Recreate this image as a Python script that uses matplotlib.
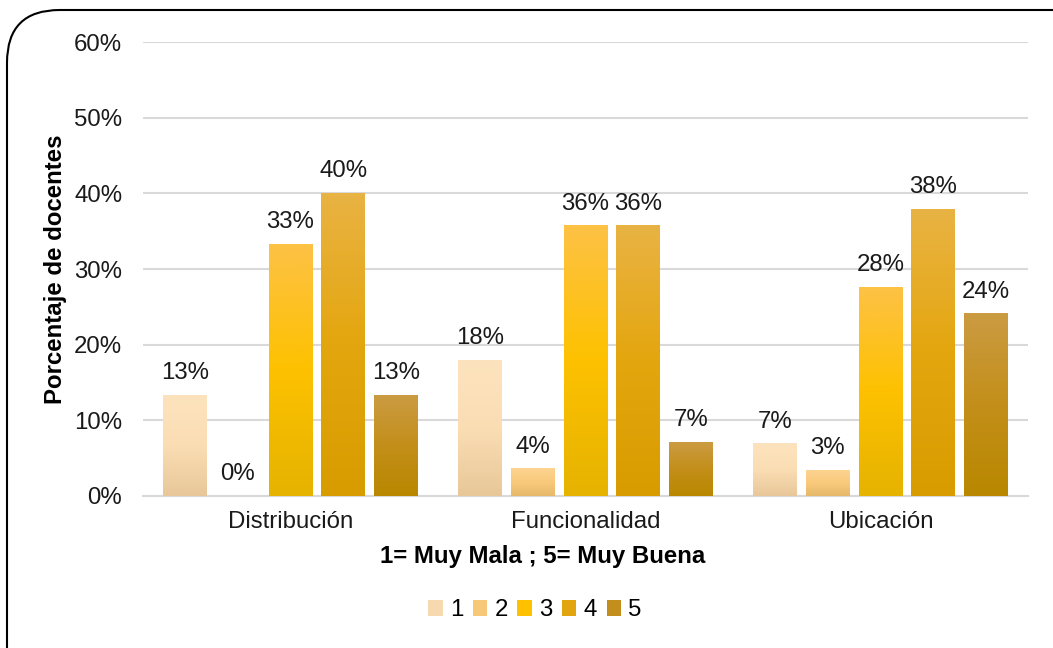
import numpy as np
import matplotlib.pyplot as plt
from matplotlib.patches import FancyBboxPatch, Patch
from matplotlib.colors import LinearSegmentedColormap

plt.rcParams['font.family'] = ['Liberation Sans', 'DejaVu Sans']

# datos
categorias = ['Distribución', 'Funcionalidad', 'Ubicación']
niveles = ['1', '2', '3', '4', '5']
valores = {
    '1': [13.3, 17.9, 6.9],
    '2': [0.0, 3.6, 3.4],
    '3': [33.3, 35.7, 27.6],
    '4': [40.0, 35.7, 37.9],
    '5': [13.3, 7.1, 24.1],
}

# colores degradados (arriba, medio, abajo)
degradados = {
    '1': ['#FDE3BD', '#FBDDB4', '#E8C899'],
    '2': ['#FDD390', '#F9CA7C', '#E6B86A'],
    '3': ['#FEC145', '#FDC100', '#E6B300'],
    '4': ['#E9B343', '#E4A60E', '#D89C00'],
    '5': ['#CB9B42', '#C38F1A', '#B98800'],
}
leyenda_col = {'1': '#F6D9AF', '2': '#F6C878', '3': '#FDC100', '4': '#E2A50F', '5': '#C28E1C'}

fs = 17.3

fig = plt.figure(figsize=(10.53, 6.48), dpi=100)
ax = fig.add_axes([0.1358, 0.2346, 0.8405, 0.7004])

x = np.arange(len(categorias))
paso = 0.179
ancho = 0.149

for i, n in enumerate(niveles):
    pos = x + (i - 2) * paso
    barras = ax.bar(pos, valores[n], width=ancho, color='none', zorder=3)
    cmap = LinearSegmentedColormap.from_list('g' + n, degradados[n][::-1])
    grad = np.linspace(0, 1, 100).reshape(-1, 1)
    for b, v in zip(barras, valores[n]):
        if b.get_height() > 0:
            ax.imshow(grad, cmap=cmap, origin='lower', aspect='auto', zorder=3,
                      extent=[b.get_x(), b.get_x() + b.get_width(), 0, b.get_height()])
        ax.annotate(f'{v:.0f}%', (b.get_x() + b.get_width() / 2, b.get_height()),
                    xytext=(0, 8), textcoords='offset points', ha='center', va='bottom',
                    fontsize=fs, color='#1a1a1a')

ax.set_xlim(-0.5, 2.5)
ax.set_ylim(0, 60)
ax.set_yticks(range(0, 61, 10))
ax.set_yticklabels([f'{t}%' for t in range(0, 61, 10)], fontsize=fs, color='#1a1a1a')
ax.set_xticks(x)
ax.set_xticklabels(categorias, fontsize=fs, color='#1a1a1a')
ax.tick_params(axis='y', length=0, pad=15)
ax.tick_params(axis='x', length=0, pad=11)
ax.grid(axis='y', color='#D9D9D9', linewidth=1.5, zorder=0)
ax.set_axisbelow(True)
for s in ['top', 'right', 'left']:
    ax.spines[s].set_visible(False)
ax.spines['bottom'].set_color('#D9D9D9')
ax.spines['bottom'].set_linewidth(1.5)

ax.set_ylabel('Porcentaje de docentes', fontsize=fs, fontweight='bold', labelpad=5)
ax.set_xlabel('1= Muy Mala ; 5= Muy Buena', fontsize=fs, fontweight='bold')
ax.xaxis.set_label_coords(0.452, -0.107)

handles = [Patch(facecolor=leyenda_col[n], label=n) for n in niveles]
fig.legend(handles=handles, loc='center', bbox_to_anchor=(0.508, 0.058), ncol=5,
           frameon=False, fontsize=fs, handlelength=0.6, handleheight=0.6,
           handletextpad=0.3, columnspacing=0.4)

borde = FancyBboxPatch((7 / 1053, -0.2), 1.2, 0.2 + (648 - 10) / 648,
                       boxstyle='round,pad=0,rounding_size=0.05',
                       transform=fig.transFigure, facecolor='none',
                       edgecolor='black', linewidth=1.5, mutation_aspect=1053 / 648)
fig.patches.append(borde)

fig.savefig('out.png', dpi=100)
